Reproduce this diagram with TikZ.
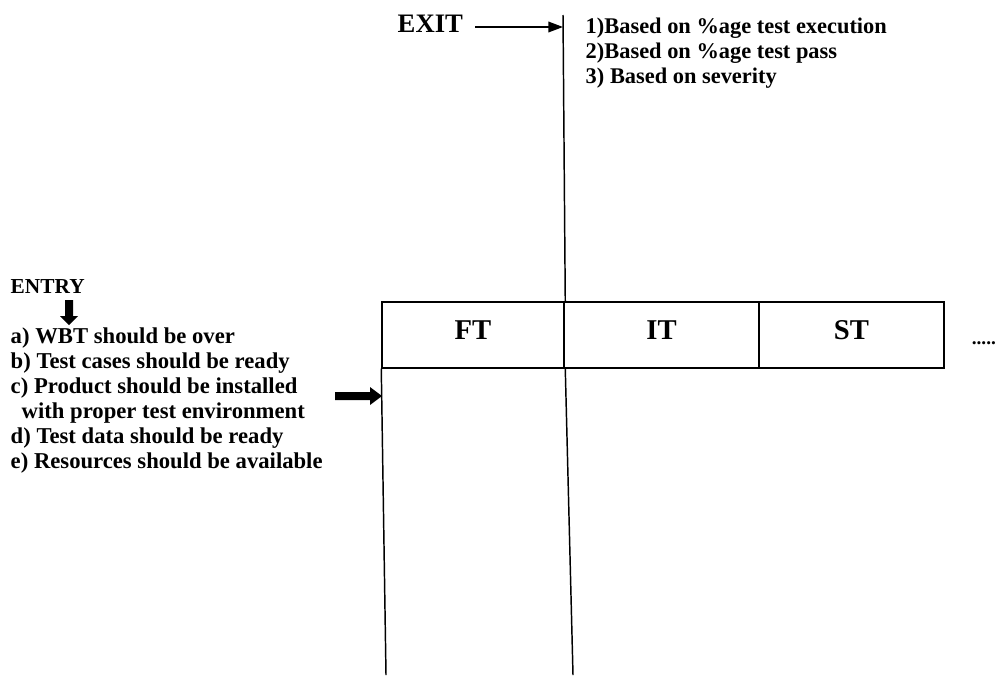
\documentclass[tikz,border=0pt]{standalone}
\usepackage{fontspec}
\setmainfont{Liberation Serif}
\usetikzlibrary{arrows.meta}
\begin{document}
\begin{tikzpicture}[x=0.75pt,y=-0.75pt,line width=1.1pt,
  cell/.style={draw,inner sep=0pt,minimum height=49.5pt,text depth=7.5pt,
    font=\fontsize{21.5}{24}\selectfont\bfseries},
  entrytxt/.style={anchor=base west,inner sep=0pt,font=\fontsize{17}{19}\selectfont\bfseries},
  crittxt/.style={anchor=base west,inner sep=0pt,font=\fontsize{16.8}{19}\selectfont\bfseries},
  bigtxt/.style={anchor=base west,inner sep=0pt,font=\fontsize{20}{24}\selectfont\bfseries}]
\useasboundingbox (0,0) rectangle (998,675);
% table
\node[cell,minimum width=136.5pt] (ft) at (473,335) {FT};
\node[cell,minimum width=146.25pt] (it) at (661.5,335) {IT};
\node[cell,minimum width=138.75pt] (st) at (851.5,335) {ST};
\node[anchor=base west,inner sep=0pt,font=\fontsize{14.5}{17}\selectfont\bfseries] (dots) at (971,344) {.....};
% exit
\node[bigtxt] (exit) at (397,32) {EXIT};
\coordinate (exittop) at (563,15);
\coordinate (exitstart) at (475,27);
\coordinate (exittip) at (563,27);
\draw (exittop) -- ([xshift=1.5pt]it.north west);
\draw[-{Triangle[length=11pt,width=8pt]}] (exitstart) -- (exittip);
\node[crittxt] (c1) at (585,33) {1)Based on \%age test execution};
\node[crittxt] (c2) at (585,58) {2)Based on \%age test pass};
\node[crittxt] (c3) at (585,83) {3) Based on severity};
% lower lines
\coordinate (lb1) at (386,675);
\coordinate (lb2) at (573,675);
\draw (ft.south west) -- (lb1);
\draw ([xshift=1.5pt]it.south west) -- (lb2);
% entry
\node[entrytxt,font=\fontsize{16}{18}\selectfont\bfseries] (entry) at (10,293) {ENTRY};
\fill (65,300) -- (73,300) -- (73,316) -- (78,316) -- (69,325) -- (60,316) -- (65,316) -- cycle;
\node[entrytxt] (ea) at (10,343) {a) WBT should be over};
\node[entrytxt] (eb) at (10,368) {b) Test cases should be ready};
\node[entrytxt] (ec) at (10,393) {c) Product should be installed};
\node[entrytxt] (ec2) at (21,418) {with proper test environment};
\node[entrytxt] (ed) at (10,443) {d) Test data should be ready};
\node[entrytxt] (ee) at (10,468) {e) Resources should be available};
\fill (335,392) -- (370,392) -- (370,387) -- (382,396) -- (370,405) -- (370,400) -- (335,400) -- cycle;
\end{tikzpicture}
\end{document}
